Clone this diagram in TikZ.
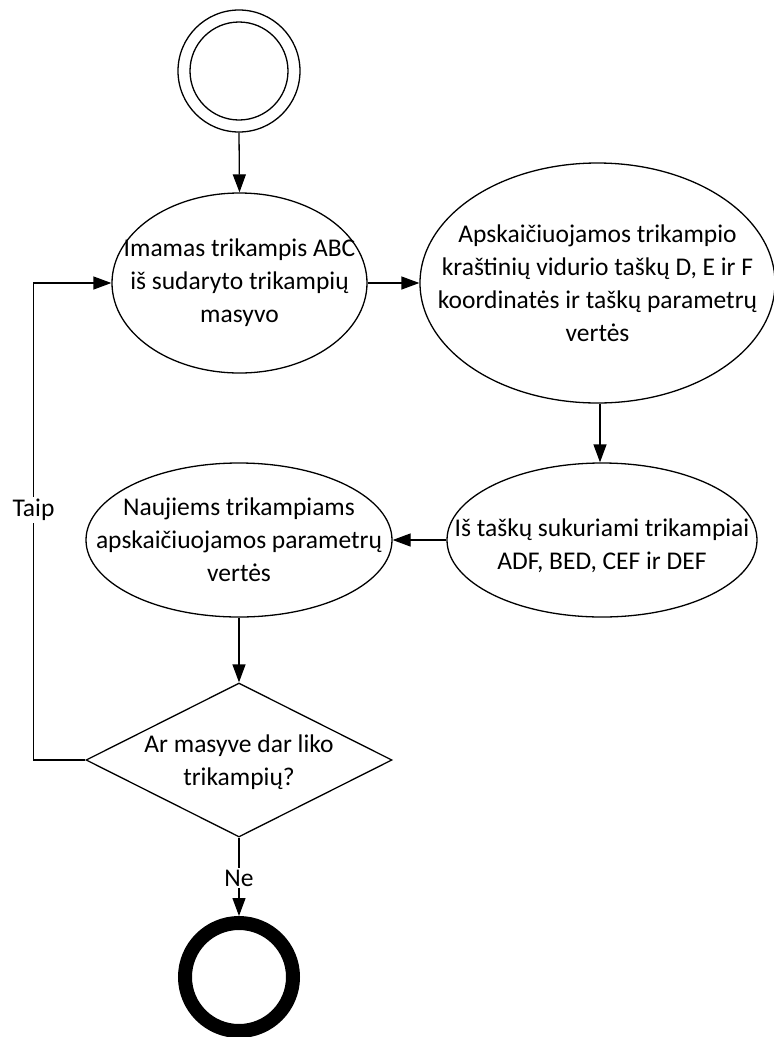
\documentclass[tikz,border=0pt]{standalone}
\usepackage{fontspec}
\setmainfont{Carlito}
\usetikzlibrary{shapes.geometric,arrows.meta}
\begin{document}
\begin{tikzpicture}[x=1pt,y=-1pt,
  every node/.style={font=\fontsize{25.5}{33}\selectfont},
  line/.style={line width=1.3pt},
  arrow/.style={line, -{Triangle[length=18pt,width=13pt]}},
  oval/.style={ellipse, draw, line width=1.3pt, inner sep=0pt},
  label/.style={align=center, inner sep=0pt},
  tag/.style={fill=white, inner sep=2pt}]
\useasboundingbox (0,0) rectangle (774,1037);

% start and end states
\node[circle, draw, line width=1.3pt, minimum size=122pt, inner sep=0pt] (start) at (239,71) {};
\draw[line] (start.center) circle[radius=49pt];
\node[circle, draw, line width=14pt, minimum size=108pt, inner sep=0pt] (end) at (239,977) {};

% activities
\node[oval, minimum width=255pt, minimum height=180pt] (e1) at (239.5,283) {};
\node[label] (t1) at (e1.center) {Imamas trikampis ABC\\iš sudaryto trikampių\\masyvo};

\node[oval, minimum width=355pt, minimum height=240pt] (e2) at (597.5,283) {};
\node[label] (t2) at (e2.center) {Apskaičiuojamos trikampio\\kraštinių vidurio taškų D, E ir F\\koordinatės ir taškų parametrų\\vertės};

\node[oval, minimum width=310pt, minimum height=154pt] (e3) at (602,540) {};
\node[label] (t3) at (602,546) {Iš taškų sukuriami trikampiai\\ADF, BED, CEF ir DEF};

\node[oval, minimum width=306pt, minimum height=154pt] (e4) at (239,540) {};
\node[label] (t4) at (e4.center) {Naujiems trikampiams\\apskaičiuojamos parametrų\\vertės};

% decision
\node[diamond, draw, line width=1.3pt, minimum width=306pt, minimum height=154pt, inner sep=0pt] (d) at (239,760) {};
\node[label] (td) at (239,762) {Ar masyve dar liko\\trikampių?};

% flow
\draw[arrow] (start.south) -- (e1.north);
\draw[arrow] (e1.east) -- (e2.west);
\draw[arrow] (e2.south -| 600,0) -- (e3.north -| 600,0);
\draw[arrow] (e3.west) -- (e4.east);
\draw[arrow] (e4.south) -- (d.north);

\coordinate (loopx) at (33.5,0);
\draw[arrow] (d.west) -- (d.west -| loopx) |- (e1.west);
\node[tag] (taip) at (33.5,510) {Taip};

\draw[arrow] (d.south) -- (end.north);
\node[tag] (ne) at (239,878) {Ne};
\end{tikzpicture}
\end{document}
